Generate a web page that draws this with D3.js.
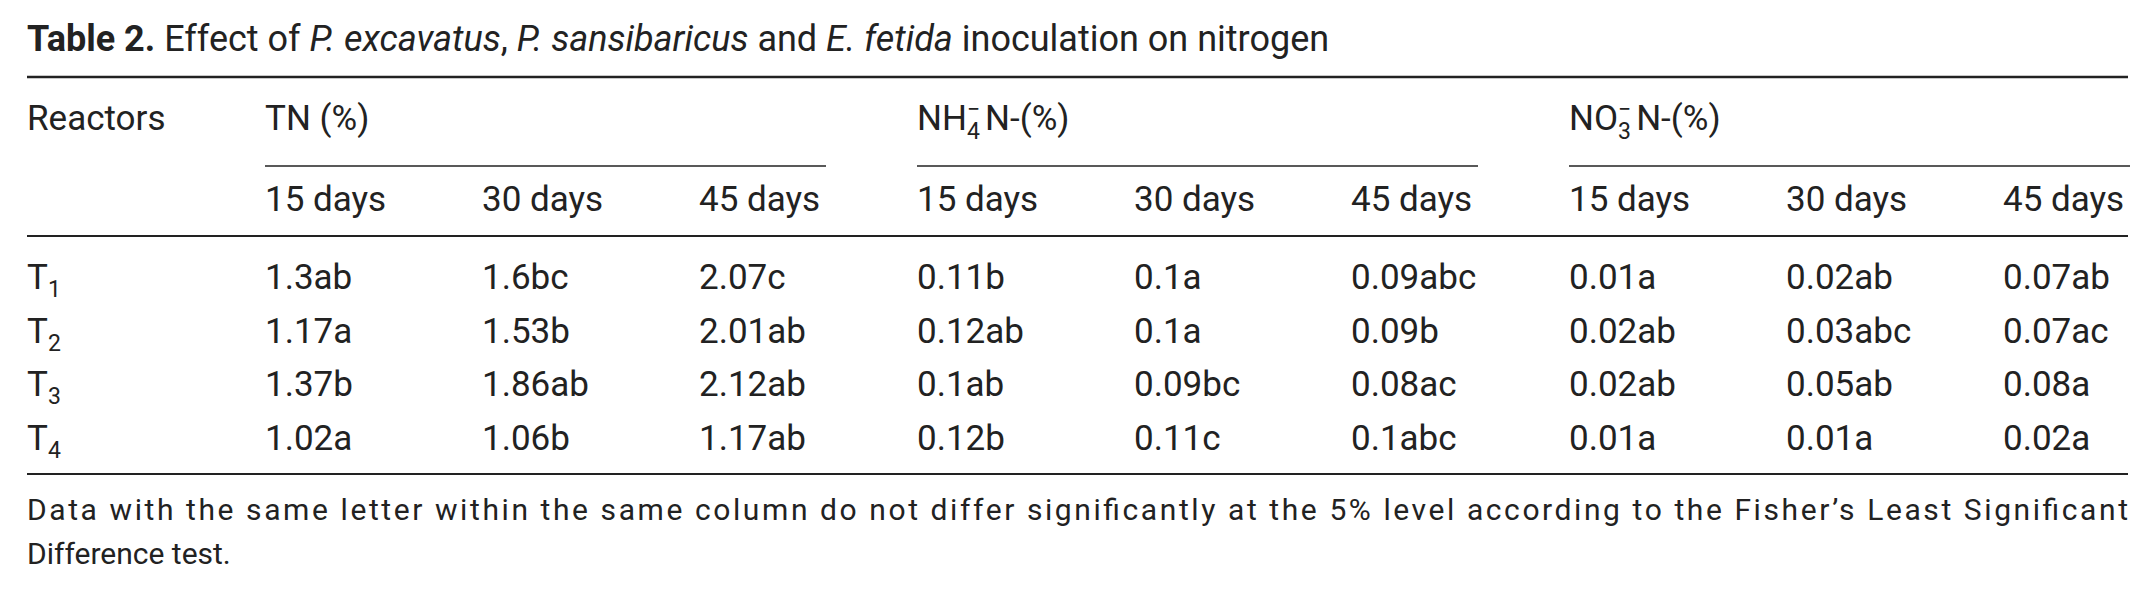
<!DOCTYPE html>
<html>
<head>
<meta charset="utf-8">
<script src="https://cdn.jsdelivr.net/npm/d3@7"></script>
<style>
  body { margin: 0; background: #fff; }
  svg text { font-family: "Liberation Sans Narrow", "Roboto", sans-serif; fill: #222; }
</style>
</head>
<body>
<svg width="2154" height="590"></svg>
<script>
    const svg = d3.select('svg');
    const fs = 35;

    // table values, as printed
    const rows = [
        { r: '1', vals: ['1.3ab', '1.6bc', '2.07c', '0.11b', '0.1a', '0.09abc', '0.01a', '0.02ab', '0.07ab'] },
        { r: '2', vals: ['1.17a', '1.53b', '2.01ab', '0.12ab', '0.1a', '0.09b', '0.02ab', '0.03abc', '0.07ac'] },
        { r: '3', vals: ['1.37b', '1.86ab', '2.12ab', '0.1ab', '0.09bc', '0.08ac', '0.02ab', '0.05ab', '0.08a'] },
        { r: '4', vals: ['1.02a', '1.06b', '1.17ab', '0.12b', '0.11c', '0.1abc', '0.01a', '0.01a', '0.02a'] }
    ]
    const groups = [
        { main: 'TN (%)' },
        { main: 'NH', sub: '4', sup: '\u2212', rest: 'N-(%)' },
        { main: 'NO', sub: '3', sup: '\u2212', rest: 'N-(%)' }
    ]
    const days = ['15 days', '30 days', '45 days']

    const groupX = d3.scalePoint().domain([0, 1, 2]).range([265, 1569])
    const colX = i => groupX(Math.floor(i / 3)) + (i % 3) * 217
    const rowY = d3.scalePoint().domain(rows.map(d => d.r)).range([289, 450])

    // title
    const title = svg.append('text').attr('x', 27).attr('y', 51).style('font-size', '36px')
    title.append('tspan').text('Table  2.').style('font-weight', 'bold')
    title.append('tspan').text(' Effect of ')
    title.append('tspan').text('P. excavatus').style('font-style', 'italic')
    title.append('tspan').text(', ')
    title.append('tspan').text('P. sansibaricus').style('font-style', 'italic')
    title.append('tspan').text(' and ')
    title.append('tspan').text('E. fetida').style('font-style', 'italic')
    title.append('tspan').text(' inoculation on nitrogen')

    const rule = (x1, x2, y, w) => svg.append('line')
        .attr('x1', x1).attr('x2', x2).attr('y1', y).attr('y2', y)
        .attr('stroke', '#222').attr('stroke-width', w)
    rule(27, 2128, 77, 2.5)
    rule(27, 2128, 236, 2)
    rule(27, 2128, 474, 2)
    groups.forEach((g, i) => rule(groupX(i), groupX(i) + 561, 166, 1.5))

    // header
    svg.append('text').attr('x', 27).attr('y', 130).style('font-size', fs + 'px').text('Reactors')
    groups.forEach((g, i) => {
        const t = svg.append('text').attr('x', groupX(i)).attr('y', 130).style('font-size', fs + 'px')
        t.append('tspan').text(g.main)
        if (g.sub) {
            t.append('tspan').text(g.sub).attr('dy', 9).style('font-size', '23px')
            t.append('tspan').text(g.sup).attr('dx', -13).attr('dy', -22).style('font-size', '23px')
            t.append('tspan').text(g.rest).attr('dx', 5).attr('dy', 13)
        }
        days.forEach((d, j) => {
            svg.append('text').attr('x', colX(i * 3 + j)).attr('y', 211)
                .style('font-size', fs + 'px').text(d)
        })
    })

    // body
    rows.forEach(row => {
        const t = svg.append('text').attr('x', 27).attr('y', rowY(row.r)).style('font-size', fs + 'px')
        t.append('tspan').text('T')
        t.append('tspan').text(row.r).attr('dy', 8).style('font-size', '23px')
        row.vals.forEach((v, i) => {
            svg.append('text').attr('x', colX(i)).attr('y', rowY(row.r))
                .style('font-size', fs + 'px').text(v)
        })
    })

    // footnote
    svg.append('text').attr('x', 27).attr('y', 520).style('font-size', '30px')
        .attr('textLength', 2101).attr('lengthAdjust', 'spacing')
        .text('Data with the same letter within the same column do not differ significantly at the 5% level according to the Fisher\u2019s Least Significant')
    svg.append('text').attr('x', 27).attr('y', 564).style('font-size', '30px').text('Difference test.')
</script>
</body>
</html>
